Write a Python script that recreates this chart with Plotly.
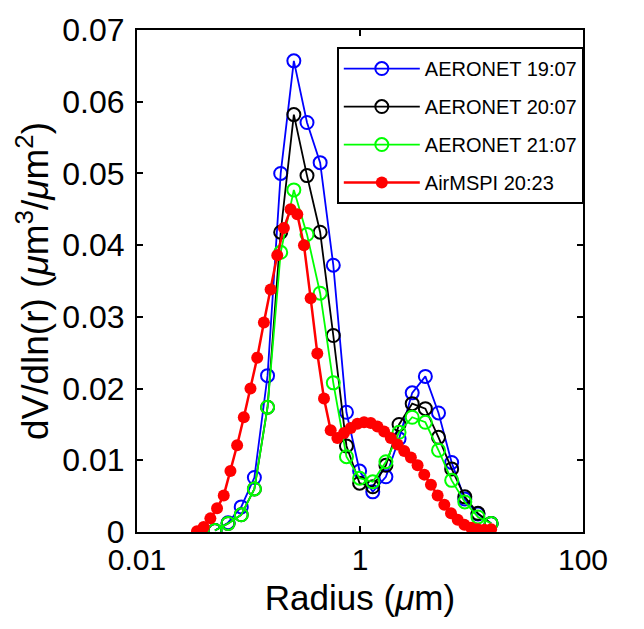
import plotly.graph_objects as go

# AERONET size bins (um)
aeronet_r = [0.05, 0.0656, 0.0861, 0.1129, 0.1482, 0.1944, 0.2551, 0.3347, 0.4391,
             0.5761, 0.7560, 0.9919, 1.3014, 1.7075, 2.2402, 2.9392, 3.8563, 5.0596,
             6.6383, 8.7096, 11.4273, 15.0]

aeronet_1907 = [0.0002, 0.0013, 0.0035, 0.0076, 0.0218, 0.0500, 0.0657, 0.0571, 0.0515,
                0.0372, 0.0167, 0.0085, 0.0056, 0.0077, 0.0130, 0.0194, 0.0217, 0.0166,
                0.0097, 0.0046, 0.0025, 0.0012]

aeronet_2007 = [0.0002, 0.0012, 0.0024, 0.0060, 0.0174, 0.0418, 0.0582, 0.0497, 0.0418,
                0.0274, 0.0120, 0.0068, 0.0063, 0.0093, 0.0150, 0.0179, 0.0172, 0.0132,
                0.0088, 0.0049, 0.0026, 0.0012]

aeronet_2107 = [0.0002, 0.0012, 0.0024, 0.0060, 0.0174, 0.0390, 0.0477, 0.0415, 0.0333,
                0.0208, 0.0105, 0.0075, 0.0070, 0.0098, 0.0139, 0.0160, 0.0153, 0.0114,
                0.0072, 0.0042, 0.0021, 0.0012]

# AirMSPI retrieval radii (um)
airmspi_r = [0.03451, 0.03963, 0.04550, 0.05224, 0.05998, 0.06887, 0.07907, 0.09078,
             0.1042, 0.1197, 0.1374, 0.1578, 0.1811, 0.2077, 0.2384, 0.2738, 0.3143,
             0.3608, 0.4142, 0.4755, 0.5458, 0.6266, 0.7193, 0.8257, 0.9480, 1.088,
             1.249, 1.434, 1.646, 1.890, 2.170, 2.491, 2.860, 3.284, 3.770, 4.328,
             4.969, 5.705, 6.550, 7.519, 8.630, 9.908, 11.37, 13.06, 15.00]

airmspi_2023 = [0.0001, 0.0007, 0.0019, 0.0033, 0.0051, 0.0085, 0.0121, 0.0160, 0.0200,
                0.0243, 0.0292, 0.0338, 0.0386, 0.0424, 0.0450, 0.0443, 0.0400, 0.0326,
                0.0249, 0.0186, 0.0142, 0.0131, 0.0138, 0.0145, 0.0151, 0.0153, 0.0152,
                0.0147, 0.0140, 0.0131, 0.0122, 0.0113, 0.0104, 0.0093, 0.0080, 0.0066,
                0.0051, 0.0038, 0.0026, 0.0017, 0.0010, 0.0006, 0.0004, 0.0003, 0.0004]

x_tickvals = [0.01, 1, 100]
x_ticktext = ["0.01", "1", "100"]
y_tickvals = [0, 0.01, 0.02, 0.03, 0.04, 0.05, 0.06, 0.07]
y_ticktext = ["0", "0.01", "0.02", "0.03", "0.04", "0.05", "0.06", "0.07"]

FONT = "Liberation Sans, Arial, Helvetica, sans-serif"

fig = go.Figure()

open_series = [
    ("AERONET 19:07", aeronet_1907, "rgb(0,0,255)"),
    ("AERONET 20:07", aeronet_2007, "rgb(0,0,0)"),
    ("AERONET 21:07", aeronet_2107, "rgb(0,255,0)"),
]
for i, (name, vals, col) in enumerate(open_series):
    fig.add_trace(go.Scatter(
        x=aeronet_r, y=vals, name=name, mode="lines+markers",
        line=dict(color=col, width=1.8),
        marker=dict(symbol="circle-open", size=13, color=col, line=dict(width=2, color=col)),
        legendgroup=f"g{i}",
    ))

fig.add_trace(go.Scatter(
    x=airmspi_r, y=airmspi_2023, name="AirMSPI 20:23", mode="lines+markers",
    line=dict(color="rgb(255,0,0)", width=2.5),
    marker=dict(symbol="circle", size=12, color="rgb(255,0,0)"),
    legendgroup="g3",
))

fig.update_layout(
    width=644, height=629,
    margin=dict(l=137, r=61, t=30, b=97),
    paper_bgcolor="white", plot_bgcolor="white",
    font=dict(family=FONT, color="black"),
    showlegend=True,
    legend=dict(
        x=0.448, y=0.966, xanchor="left", yanchor="top",
        bgcolor="white", bordercolor="black", borderwidth=2,
        font=dict(size=20, family=FONT, color="black"),
        itemwidth=76, tracegroupgap=9, traceorder="grouped",
    ),
)

fig.update_xaxes(
    type="log", range=[-2, 2],
    tickvals=x_tickvals, ticktext=x_ticktext,
    ticks="inside", ticklen=6, tickwidth=1.5, tickcolor="black",
    showline=True, linecolor="black", linewidth=2, mirror="allticks",
    showgrid=False, zeroline=False,
    tickfont=dict(size=30, family=FONT, color="black"),
    title=dict(text="Radius (<i>μ</i>m)", font=dict(size=35, family=FONT, color="black"), standoff=10),
)
fig.update_yaxes(
    range=[0, 0.07],
    tickvals=y_tickvals, ticktext=y_ticktext,
    ticks="inside", ticklen=6, tickwidth=1.5, tickcolor="black",
    showline=True, linecolor="black", linewidth=2, mirror="allticks",
    showgrid=False, zeroline=False,
    tickfont=dict(size=32, family=FONT, color="black"),
    ticklabelstandoff=4,
    title=dict(text="dV/dln(r) (<i>μ</i>m<sup>3</sup>/<i>μ</i>m<sup>2</sup>)",
               font=dict(size=37, family=FONT, color="black"), standoff=2),
)

fig.write_html("out.html")
